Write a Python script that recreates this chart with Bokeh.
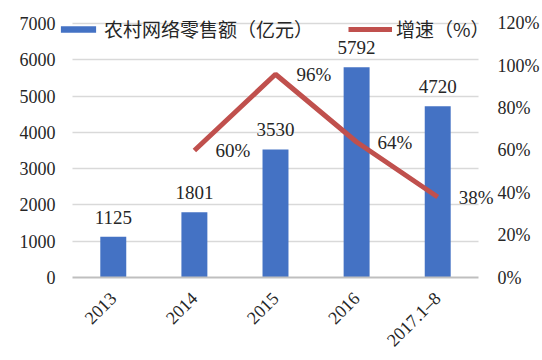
from bokeh.plotting import figure
from bokeh.models import (FactorRange, Range1d, LinearAxis, FixedTicker, PrintfTickFormatter,
                          Legend, LegendItem, ColumnDataSource, LabelSet)
from bokeh.embed import file_html
from bokeh.resources import INLINE

# ---- data ----
categories = ["2013", "2014", "2015", "2016", "2017.1–8"]
sales = [1125, 1801, 3530, 5792, 4720]          # 农村网络零售额（亿元）
rate_categories = ["2014", "2015", "2016", "2017.1–8"]
rate = [60, 96, 64, 38]                          # 增速（%）
left_ticks = [0, 1000, 2000, 3000, 4000, 5000, 6000, 7000]
right_ticks = [0, 20, 40, 60, 80, 100, 120]

SERIF = "Liberation Serif"
CJK = "Noto Sans CJK SC"
BLUE = "#4472C4"
RED = "#C0504D"
TXT = "#262626"

# frame extends a little above the top tick so that the legend sits on the 7000 line
FRAME_H = 272
Y_END = 7000 * FRAME_H / (FRAME_H - 17)
P_END = 120 * FRAME_H / (FRAME_H - 17)

p = figure(width=542, height=360,
           x_range=FactorRange(factors=categories, range_padding=0.2,
                               range_padding_units="absolute"),
           y_range=Range1d(0, Y_END), output_backend="svg", toolbar_location=None,
           min_border_left=56, min_border_right=48, min_border_top=6, min_border_bottom=82)
p.extra_y_ranges = {"pct": Range1d(0, P_END)}
p.outline_line_color = None
p.background_fill_color = "white"

bar_src = ColumnDataSource(dict(x=categories, y=sales, lbl=[str(v) for v in sales]))
rate_src = ColumnDataSource(dict(x=rate_categories, y=rate, lbl=[f"{v}%" for v in rate]))

bars = p.vbar(x="x", top="y", width=0.32, source=bar_src, fill_color=BLUE, line_color=None)
line = p.line(x="x", y="y", source=rate_src, y_range_name="pct", line_color=RED, line_width=5)

p.add_layout(LabelSet(x="x", y="y", text="lbl", source=bar_src, text_align="center",
                      text_baseline="bottom", y_offset=13, text_font=SERIF,
                      text_font_size="19px", text_color=TXT))
p.add_layout(LabelSet(x="x", y="y", text="lbl", source=rate_src, y_range_name="pct",
                      text_align="left", text_baseline="middle", x_offset=21,
                      text_font=SERIF, text_font_size="19px", text_color=TXT))

# grid
p.xgrid.grid_line_color = None
p.ygrid.ticker = FixedTicker(ticks=left_ticks)
p.ygrid.grid_line_color = "#d9d9d9"
p.ygrid.grid_line_width = 1.5
p.ygrid.cross_bounds = (0, 5)

def style(a, standoff, size):
    a.axis_line_color = None
    a.major_tick_line_color = None
    a.minor_tick_line_color = None
    a.major_tick_out = 0
    a.major_tick_in = 0
    a.minor_tick_out = 0
    a.axis_label_standoff = 0
    a.major_label_standoff = standoff
    a.major_label_text_font = SERIF
    a.major_label_text_font_size = size
    a.major_label_text_color = TXT

ax = p.yaxis[0]
ax.ticker = FixedTicker(ticks=left_ticks)
style(ax, 1, "18px")

rax = LinearAxis(y_range_name="pct", ticker=FixedTicker(ticks=right_ticks),
                 formatter=PrintfTickFormatter(format="%d%%"))
style(rax, 3, "18px")
p.add_layout(rax, "right")

xa = p.xaxis[0]
style(xa, 18, "18px")
xa.axis_line_color = "#bfbfbf"
xa.axis_line_width = 2
xa.bounds = (0, 5)
xa.major_label_orientation = 0.785398

legend = Legend(items=[LegendItem(label="农村网络零售额（亿元）", renderers=[bars]),
                       LegendItem(label="增速（%）", renderers=[line])],
                orientation="horizontal", location=(0, 235),
                padding=0, margin=0, spacing=35, border_line_color=None,
                background_fill_alpha=0, glyph_width=44, glyph_height=8,
                label_height=20, label_standoff=4,
                label_text_font=CJK, label_text_font_size="19px", label_text_color=TXT,
                label_text_baseline="middle")
p.add_layout(legend)

open("out.html", "w").write(file_html(p, INLINE))
